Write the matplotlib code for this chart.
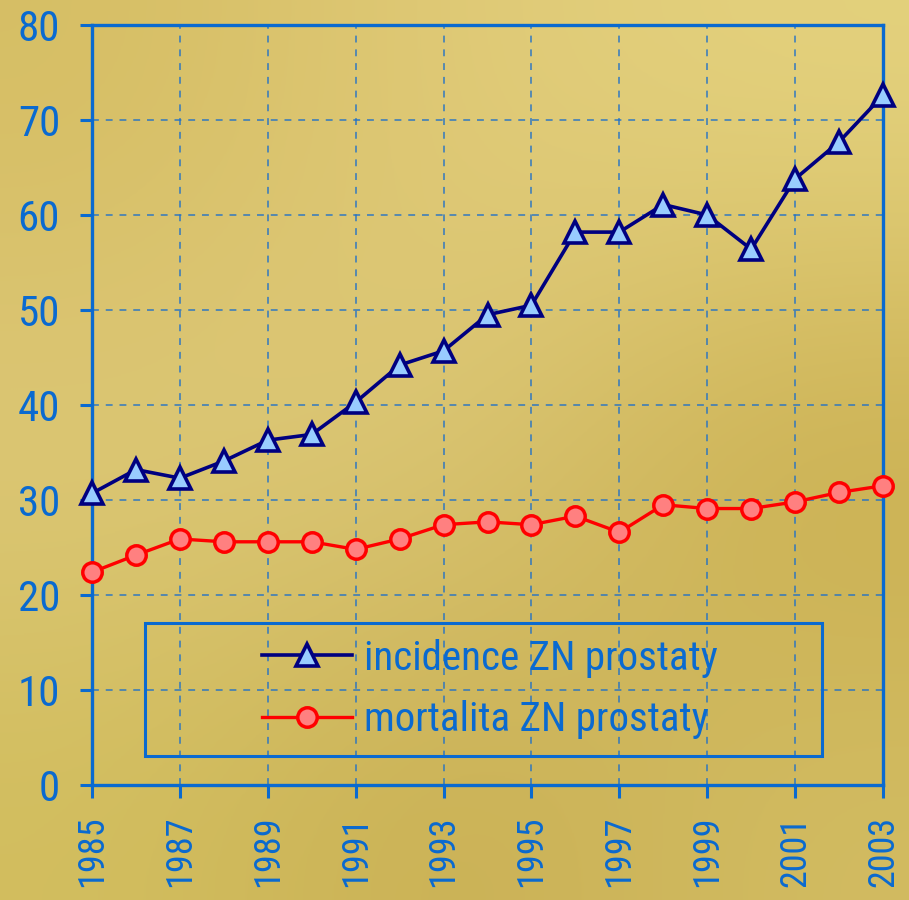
import matplotlib
matplotlib.use("Agg")
import matplotlib.pyplot as plt
from matplotlib.colors import to_rgb
from matplotlib.patches import Rectangle
import numpy as np

years = list(range(1985, 2004))
incidence = [30.7, 33.2, 32.3, 34.1, 36.3, 36.9, 40.3, 44.2, 45.7, 49.5, 50.5,
             58.2, 58.2, 61.1, 60.0, 56.4, 63.8, 67.7, 72.6]
mortality = [22.4, 24.2, 25.9, 25.6, 25.6, 25.6, 24.8, 25.9, 27.4, 27.7, 27.4,
             28.3, 26.6, 29.5, 29.1, 29.1, 29.8, 30.8, 31.5]
series_names = ["incidence ZN prostaty", "mortalita ZN prostaty"]
x_ticks = list(range(1985, 2004, 2))
y_ticks = list(range(0, 81, 10))

plt.rcParams["font.family"] = ["Roboto Condensed", "Liberation Sans", "DejaVu Sans"]

BLUE = "#0a6ad0"

fig = plt.figure(figsize=(9.09, 9.0), dpi=100)

# background gradient
bg = fig.add_axes([0, 0, 1, 1], zorder=-10)
grid_cols = [["#D6BE64", "#E0CA78", "#E4D27E"],
             ["#DEC97A", "#DCC878", "#C8AC4C"],
             ["#D2BE5E", "#C8AE52", "#D2BC62"]]
arr = np.array([[to_rgb(c) for c in row] for row in grid_cols])
bg.imshow(arr, extent=[0, 1, 0, 1], aspect="auto", interpolation="bicubic", origin="upper")
bg.set_axis_off()

ax = fig.add_axes([92/909, 1-785/900, (883-92)/909, (785-25)/900])
ax.set_facecolor("none")
ax.set_xlim(1985, 2003)
ax.set_ylim(0, 80)

ax.plot(years, incidence, color="#000080", lw=2.6, marker="^", markersize=16,
        markerfacecolor="#99CCFF", markeredgecolor="#000080", markeredgewidth=2.6,
        clip_on=False, zorder=6, label=series_names[0])
ax.plot(years, mortality, color="#FF0000", lw=2.4, marker="o", markersize=14,
        markerfacecolor="#FF8080", markeredgecolor="#FF0000", markeredgewidth=2.5,
        clip_on=False, zorder=5, label=series_names[1])

ax.set_xticks(x_ticks)
ax.set_yticks(y_ticks)
ax.set_xticklabels([str(v) for v in x_ticks], rotation=90)
ax.tick_params(axis="both", direction="out", length=9, width=2.2, color=BLUE,
               labelcolor=BLUE)
ax.tick_params(axis="y", labelsize=31, pad=14)
ax.tick_params(axis="x", labelsize=26, pad=13)
for s in ax.spines.values():
    s.set_color(BLUE)
    s.set_linewidth(2.4)
    s.set_zorder(4)
ax.grid(True, color="#1f70c8", lw=1.1, linestyle=(0, (4.5, 4.5)), alpha=0.9)
ax.set_axisbelow(True)

# legend box
x0, y0, x1, y1 = 145, 623, 822, 756
rect = Rectangle((x0/909, 1-y1/900), (x1-x0)/909, (y1-y0)/900, transform=fig.transFigure,
                 fill=False, edgecolor=BLUE, lw=2.2, zorder=7)
fig.add_artist(rect)
leg = ax.legend(loc="center", bbox_to_anchor=(490/909, 1-689/900),
                bbox_transform=fig.transFigure, frameon=False, fontsize=29.5,
                handlelength=2.2, handletextpad=0.3, labelspacing=0.55,
                borderpad=0.0)
for t in leg.get_texts():
    t.set_color(BLUE)

fig.savefig("out.png", dpi=100)
